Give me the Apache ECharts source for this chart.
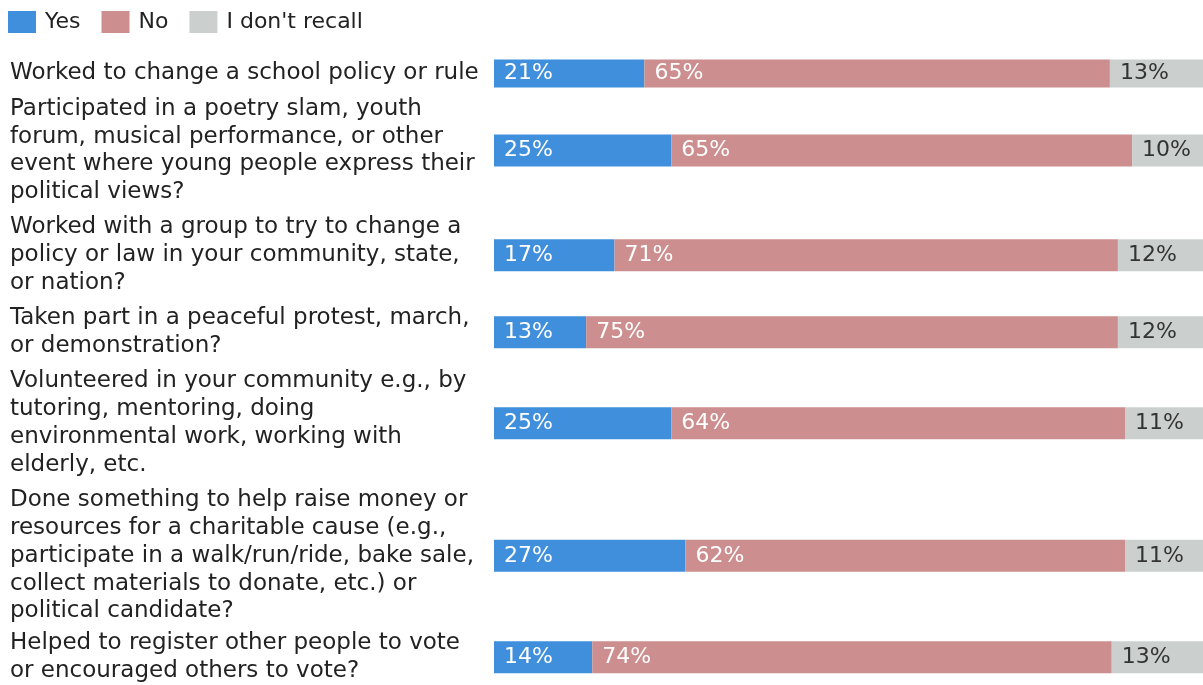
<!DOCTYPE html>
<html>
<head>
<meta charset="utf-8">
<script src="https://cdn.jsdelivr.net/npm/echarts@6/dist/echarts.min.js"></script>
<style>
html,body{margin:0;padding:0;background:#fff;}
#main{width:1203px;height:685px;}
</style>
</head>
<body>
<div id="main"></div>
<script>
var categories = [
  'Worked to change a school policy or rule',
  'Participated in a poetry slam, youth\nforum, musical performance, or other\nevent where young people express their\npolitical views?',
  'Worked with a group to try to change a\npolicy or law in your community, state,\nor nation?',
  'Taken part in a peaceful protest, march,\nor demonstration?',
  'Volunteered in your community e.g., by\ntutoring, mentoring, doing\nenvironmental work, working with\nelderly, etc.',
  'Done something to help raise money or\nresources for a charitable cause (e.g.,\nparticipate in a walk/run/ride, bake sale,\ncollect materials to donate, etc.) or\npolitical candidate?',
  'Helped to register other people to vote\nor encouraged others to vote?'
];
var yesData = [21, 25, 17, 13, 25, 27, 14];
var noData = [65, 65, 71, 75, 64, 62, 74];
var dontRecallData = [13, 10, 12, 12, 11, 11, 13];
var seriesNames = ['Yes', 'No', "I don't recall"];

var colors = ['#3f8fdc', '#cc8e8e', '#cbd0cf'];
var labelColors = ['#fff', '#fff', '#333'];
var fontFamily = '"DejaVu Sans", sans-serif';

var lineH = 27.8;
var blockGap = 7.5;
var y = 73.5 - lineH / 2;

var grids = [], xAxes = [], yAxes = [], series = [];
for (var i = 0; i < categories.length; i++) {
  var nLines = categories[i].split('\n').length;
  var h = nLines * lineH;
  grids.push({left: 494, right: 0, top: y, height: h});
  y += h + blockGap;
  // each row is scaled to its own total, so the bar always fills the width
  var total = yesData[i] + noData[i] + dontRecallData[i];
  xAxes.push({
    gridIndex: i, type: 'value', min: 0, max: total, show: false
  });
  yAxes.push({
    gridIndex: i, type: 'category', data: [categories[i]],
    axisLine: {show: false}, axisTick: {show: false}, splitLine: {show: false},
    axisLabel: {
      align: 'left', margin: 484, fontSize: 23, lineHeight: lineH,
      color: '#222', fontFamily: fontFamily
    }
  });
  var rowVals = [yesData[i], noData[i], dontRecallData[i]];
  for (var s = 0; s < 3; s++) {
    series.push({
      name: seriesNames[s], type: 'bar', stack: 'row' + i,
      xAxisIndex: i, yAxisIndex: i, barWidth: 32,
      data: [rowVals[s]],
      itemStyle: {color: colors[s]},
      label: {
        show: true, position: 'insideLeft', distance: 10,
        formatter: '{c}%', fontSize: 22, color: labelColors[s],
        fontFamily: fontFamily
      },
      emphasis: {disabled: true},
      animation: false
    });
  }
}

var myChart = echarts.init(document.getElementById('main'));
myChart.setOption({
  animation: false,
  color: colors,
  legend: {
    data: seriesNames, left: 8, top: 11, padding: 0,
    itemWidth: 28, itemHeight: 22, itemGap: 21, icon: 'rect',
    textStyle: {fontSize: 22, color: '#222', fontFamily: fontFamily, padding: [0, 0, 0, 4]}
  },
  grid: grids,
  xAxis: xAxes,
  yAxis: yAxes,
  series: series
});
</script>
</body>
</html>
